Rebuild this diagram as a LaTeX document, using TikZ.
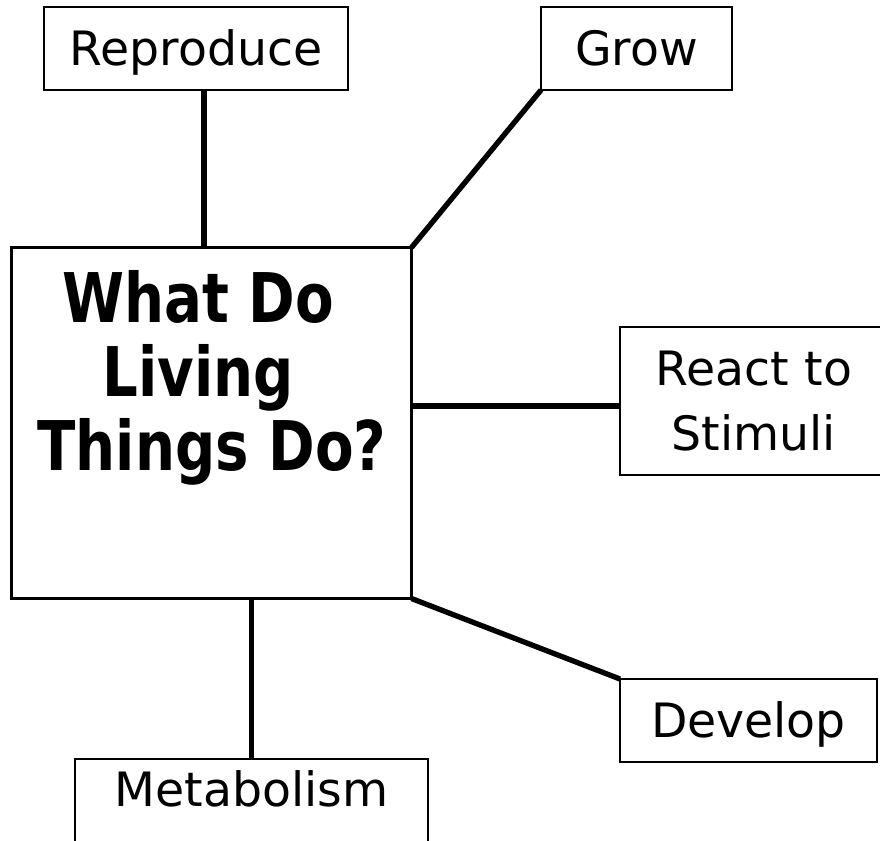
\documentclass[tikz,border=0pt]{standalone}
\usepackage{fontspec}
\setmainfont{DejaVu Sans}
\newfontfamily\titlefont[FakeStretch=0.82]{DejaVu Sans}
\begin{document}
\begin{tikzpicture}[x=0.75pt,y=-0.75pt,
  box/.style={draw=black,line width=1.6pt,fill=white,inner sep=0pt,outer sep=0pt,
    font=\fontsize{35.5pt}{48.75pt}\selectfont,align=center},
  oneline/.style={box,text height=25.5pt,text depth=0pt},
  link/.style={line width=4pt,draw=black}]
\useasboundingbox (0,0) rectangle (880,840);
\clip (0,0) rectangle (880,840);

% outer boxes
\node[oneline,minimum width=228pt,minimum height=62.25pt] (repro) at (196,48.5) {Reproduce};
\node[oneline,minimum width=143.25pt,minimum height=62.25pt] (grow) at (636.5,48.5) {Grow};
\node[box,minimum width=201pt,minimum height=111pt] (react) at (754,401) {React to\\Stimuli};
\node[oneline,minimum width=192.75pt,minimum height=62.25pt] (develop) at (748.5,720.5) {Develop};
\node[box,anchor=north,minimum width=264.75pt,inner ysep=9.75pt,
      text height=25.5pt,text depth=60pt] (metab) at (251.5,759) {Metabolism};

% central box and its title
\node[draw=black,line width=1.6pt,inner sep=0pt,outer sep=0pt,
      minimum width=300pt,minimum height=263.25pt] (main) at (211.5,423) {};
\node[anchor=north,inner sep=0pt,align=center,
      font={\titlefont\bfseries\fontsize{51.4pt}{55.5pt}\selectfont}] (title) at (212,270)
  {What Do\kern21pt\\Living\kern21pt\\Things Do?};

% connectors
\draw[link] ([xshift=6pt]repro.south) -- ([xshift=6pt]repro.south |- main.north);
\draw[link] (grow.south west) -- (main.north east);
\draw[link] ([yshift=-3.75pt]react.west) -- ([yshift=-3.75pt]react.west -| main.east);
\draw[link] (main.south east) -- (develop.north west);
\draw[link] (metab.north) -- (metab.north |- main.south);
\end{tikzpicture}
\end{document}
